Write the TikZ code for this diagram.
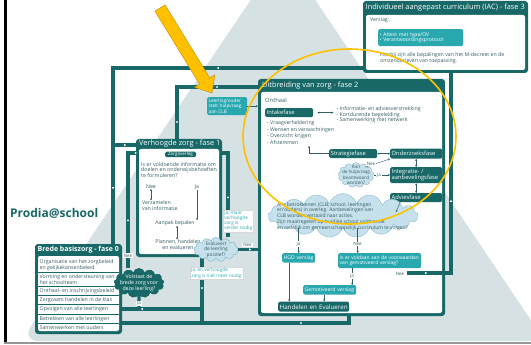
\documentclass[tikz,border=0pt]{standalone}
\usepackage{fontspec}
\setmainfont{Open Sans}
\usetikzlibrary{positioning,shapes.symbols,arrows.meta,decorations.markings}

\definecolor{zorgteal}{RGB}{24,104,104}
\definecolor{zorgcyaan}{RGB}{42,168,176}
\definecolor{zorgtekst}{RGB}{52,94,100}
\definecolor{wolkblauw}{RGB}{198,225,236}
\definecolor{wolkrand}{RGB}{140,188,205}
\definecolor{piramide}{RGB}{213,225,227}
\definecolor{goud}{RGB}{255,192,0}
\definecolor{goudrand}{RGB}{190,140,0}
\definecolor{randgrijs}{RGB}{150,150,150}

\tikzstyle{fasekader} = [fill=zorgteal, rounded corners=3pt, inner sep=0pt]
\tikzstyle{fasevak} = [fill=white, rounded corners=2pt, inner sep=0pt]
\tikzstyle{fasekop} = [text=white, font=\fontsize{7.4}{8}\selectfont, inner sep=0pt, anchor=west]
\tikzstyle{stapdonker} = [fill=zorgteal, text=white, rounded corners=1.5pt, font=\fontsize{5.8}{6.2}\selectfont, inner sep=1.5pt, anchor=north west, align=left]
\tikzstyle{stapcyaan} = [fill=zorgcyaan, text=white, rounded corners=1.5pt, font=\fontsize{5.1}{5.8}\selectfont, inner sep=1.5pt, anchor=north west, align=left]
\tikzstyle{tekstje} = [text=zorgtekst, font=\fontsize{5.2}{5.7}\selectfont, inner sep=0pt, align=left, anchor=west]
\tikzstyle{wolk} = [cloud, cloud puffs=13, fill=wolkblauw, draw=wolkrand, line width=0.4pt, inner sep=0pt]
\tikzstyle{wolktekst} = [text=zorgtekst, font=\fontsize{4.8}{5.4}\selectfont, inner sep=0pt, align=center]
\tikzstyle{lijn} = [draw=zorgteal, line width=3.2pt]
\tikzstyle{pijltje} = [draw=zorgtekst, line width=0.45pt, -{Stealth[length=2pt,width=2.2pt]}]
\tikzstyle{tweepijl} = [draw=zorgtekst, line width=0.45pt, {Stealth[length=2pt,width=2.2pt]}-{Stealth[length=2pt,width=2.2pt]}]
\tikzstyle{bijschrift} = [fill=white, text=zorgtekst, font=\fontsize{4.5}{5}\selectfont, inner sep=0.8pt]
\tikzstyle{kader} = [fill=white, draw=black!15, line width=0.3pt, text=zorgcyaan, font=\fontsize{4.7}{5.1}\selectfont, inner sep=1.2pt, align=left, anchor=north west]
\tikzset{merk/.style={postaction={decorate,decoration={markings,
	mark=at position #1 with {\fill[white] (1.2pt,0pt) -- (-0.9pt,1.2pt) -- (-0.9pt,-1.2pt) -- cycle;}}}}}

\begin{document}
\begin{tikzpicture}[x=1pt,y=-1pt]
		\useasboundingbox (0,0) rectangle (531,345);
		\fill[white] (0,0) rectangle (531,345);
		% piramide achter het schema
		\fill[piramide, rounded corners=18pt] (545,341) -- (283,-48) -- (21,341) -- cycle;
		\fill[black] (4,0) rectangle (7.3,343);
		\fill[randgrijs] (4,341.6) rectangle (531,343.6);
		
		\node[text=zorgteal, font=\fontsize{12}{14}\selectfont\bfseries, anchor=base west, inner sep=0pt] (prodia) at (10,218) {Prodia@school};
		
		% fase 3
		\node[fasekader, minimum width=165, minimum height=72] (iac) at (445.5,37) {};
		\node[fasevak, minimum width=159, minimum height=55] (iacvak) at (445.5,42.5) {};
		\node[fasekop] (iackop) at (365.5,8) {Individueel aangepast curriculum (IAC) - fase 3};
		\node[tekstje] (verslag) at (370,20.5) {Verslag:};
		\node[stapcyaan, text width=82pt, minimum height=17pt] (attest) at (378,29) {• Attest met type/OV\\• Verantwoordingsprotocol};
		\node[tekstje, font=\fontsize{5.2}{6.2}\selectfont] (bepalingen) at (380,58) {Hierbij zijn alle bepalingen van het M-decreet en de\\omzendbrieven van toepassing.};
		
		% fase 2
		\node[fasekader, minimum width=187, minimum height=237] (uitbreiding) at (351.5,197.5) {};
		\node[fasevak, minimum width=181, minimum height=221] (uitbreidingvak) at (351.5,202.5) {};
		\node[fasekop] (uitbreidingkop) at (262,86) {Uitbreiding van zorg - fase 2};
		\node[tekstje, font=\fontsize{5.8}{6.5}\selectfont] (onthaal) at (265,100.5) {Onthaal};
		\node[stapdonker, text width=45pt, minimum height=9pt] (intake) at (265,108) {Intakefase};
		\node[tekstje, right=23pt of intake, yshift=-2pt] (informatie) {- Informatie- en adviesverstrekking\\- Kortdurende begeleiding\\- Samenwerking met netwerk};
		\node[tekstje, anchor=north west, font=\fontsize{5.2}{6.5}\selectfont] (vraag) at (267,120.5) {- Vraagverheldering\\- Wensen en verwachtingen\\- Overzicht krijgen\\- Afstemmen};
		\coordinate (lijstvoet) at (309,146);
		\node[stapdonker, text width=45pt, minimum height=9pt] (strategie) at (329,149) {Strategiefase};
		\node[stapdonker, text width=49pt, minimum height=10pt] (onderzoek) at (390,148.5) {Onderzoeksfase};
		\node[stapdonker, text width=49pt, minimum height=16pt] (integratie) at (390,167) {Integratie- /\\aanbevelingsfase};
		\node[stapdonker, text width=49pt, minimum height=9pt] (advies) at (390,193) {Adviesfase};
		\coordinate (adviespunt) at (396,212);
		\node[stapcyaan, text width=30pt, minimum height=9.5pt] (hgd) at (282,253) {HGD verslag};
		\node[stapcyaan, text width=80pt, minimum height=15pt, font=\fontsize{4.9}{5.6}\selectfont] (voldaan) at (338,253) {Is er voldaan aan de voorwaarden\\van gemotiveerd verslag?};
		\node[stapcyaan, text width=50pt, minimum height=9.5pt] (gemotiveerd) at (303,285) {Gemotiveerd verslag};
		\node[stapdonker, text width=68pt, minimum height=10pt, font=\fontsize{6.2}{6.6}\selectfont] (handelen) at (278,301.5) {Handelen en Evalueren};
		\node[stapcyaan, text width=37pt, minimum height=18pt, font=\fontsize{4.7}{5.2}\selectfont] (leerling) at (207,97) {Leerling/ouder\\stelt hulpvraag\\aan CLB};
		
		% fase 1
		\node[fasekader, minimum width=86, minimum height=118] (verhoogd) at (179,198) {};
		\node[fasevak, minimum width=80, minimum height=105] (verhoogdvak) at (179,201.5) {};
		\node[fasekop] (verhoogdkop) at (139,144) {Verhoogde zorg - fase 1};
		\node[stapdonker, anchor=center, minimum width=31pt, minimum height=5pt, inner sep=0.5pt, font=\fontsize{4.5}{5}\selectfont] (zorgoverleg) at (180.5,154.5) {Zorgoverleg};
		\node[tekstje, font=\fontsize{5.3}{5.3}\selectfont] (voldoende) at (141,170) {Is er voldoende informatie om\\doelen en onderwijsbehoeften\\te formuleren?};
		\node[tekstje, anchor=center] (nee1) at (151,187) {Nee};
		\node[tekstje, anchor=center] (ja1) at (197,187) {Ja};
		\node[tekstje] (verzamelen) at (142,205.5) {Verzamelen\\van informatie};
		\node[tekstje, anchor=center] (aanpak) at (175,223) {Aanpak bepalen};
		\node[tekstje, anchor=center, align=center] (plannen) at (178,244.5) {Plannen, handelen\\en evalueren};
		
		% fase 0
		\node[fasekader, minimum width=87, minimum height=90] (brede) at (78.5,289) {};
		\node[fasevak, minimum width=81, minimum height=75] (bredevak) at (78.5,293.5) {};
		\node[fasekop, font=\fontsize{7}{8}\selectfont\bfseries] (bredekop) at (37.5,249.5) {Brede basiszorg - fase 0};
		\foreach \y in {272,286,295.5,304.5,314,323.5}
			\draw[zorgteal, line width=0.8pt] (38,\y) -- (119,\y);
		\node[tekstje, font=\fontsize{5.2}{4.9}\selectfont] (organisatie) at (39.5,265.5) {Organisatie van het zorgbeleid\\en gelijkekansenbeleid};
		\node[tekstje, font=\fontsize{5.2}{4.9}\selectfont] (vorming) at (39.5,279.5) {Vorming en ondersteuning van\\het schoolteam};
		\node[tekstje] (inschrijving) at (39.5,291) {Onthaal- en inschrijvingsbeleid};
		\node[tekstje] (zorgzaam) at (39.5,300) {Zorgzaam handelen in de klas};
		\node[tekstje] (opvolgen) at (39.5,309.5) {Opvolgen van alle leerlingen};
		\node[tekstje] (betrekken) at (39.5,319) {Betrekken van alle leerlingen};
		\node[tekstje] (ouders) at (39.5,328) {Samenwerken met ouders};
		
		% lussen tussen de fasen
		\coordinate (bovenrechts) at (363,68);
		\coordinate (bovenlinks) at (113,68);
		\coordinate (koplinks) at (113,145);
		\coordinate (binnenhoek) at (177,87);
		\coordinate (neehoek) at (128,153);
		\coordinate (maarhoek) at (228,153);
		\coordinate (jahoek) at (139,309);
		\coordinate (middenhoek) at (202,309);
		\coordinate (onderhoek) at (349,323);
		\coordinate (rechtshoek) at (451,273);
		\coordinate (neestart) at (407,273);
		
		\node[wolk, fill=zorgteal, draw=zorgteal, minimum width=50, minimum height=29, aspect=1.7] (volstaatwolk) at (139,283) {};
		\node[wolk, minimum width=44, minimum height=24, aspect=1.8] (evalwolk) at (216,249.5) {};
		
		\draw[lijn, merk=145pt, merk=370pt] (bovenrechts) -- (bovenlinks) -- (bovenlinks |- brede.north);
		\draw[lijn, merk=12pt] (koplinks) -- (koplinks -| verhoogd.west);
		\draw[lijn, merk=41pt, merk=116pt] (binnenhoek -| uitbreiding.west) -- (binnenhoek) -- (binnenhoek |- verhoogd.north);
		\draw[lijn, merk=48pt, merk=123pt] (neehoek |- volstaatwolk.north) -- (neehoek) -- (neehoek -| verhoogd.west);
		\draw[lijn, merk=40pt] (maarhoek |- evalwolk.north) -- (maarhoek) -- (maarhoek -| verhoogd.east);
		\draw[lijn, merk=12pt] (evalwolk.east) -- (evalwolk.east -| uitbreiding.west);
		\draw[lijn, merk=30pt] ([xshift=-14pt]evalwolk.south) -- ([xshift=-14pt]evalwolk.south |- onderhoek);
		\draw[lijn] (volstaatwolk.south) -- (jahoek);
		\draw[lijn, merk=60pt] (middenhoek) -- (jahoek -| brede.east);
		\draw[lijn, merk=55pt] (onderhoek |- uitbreiding.south) -- (onderhoek) -- (onderhoek -| brede.east);
		\draw[lijn, merk=19pt, merk=116pt] (neestart) -- (rechtshoek) -- (rechtshoek |- iac.south);
		
		% wolken
		\node[wolk, fill=zorgteal, draw=zorgteal, minimum width=50, minimum height=29, aspect=1.7] (volstaatwolk) at (139,283) {};
		\node[wolktekst, text=white, font=\fontsize{5.2}{5.7}\selectfont] (volstaattekst) at (volstaatwolk) {Volstaat de\\brede zorg voor\\deze leerling?};
		\node[wolk, minimum width=44, minimum height=24, aspect=1.8] (evalwolk) at (216,249.5) {};
		\node[wolktekst] (evaltekst) at (evalwolk) {Evalueert\\de leerling\\positief?};
		\node[wolk, minimum width=36, minimum height=25, aspect=1.4] (kanwolk) at (356,175) {};
		\node[wolktekst, font=\fontsize{4.6}{5.3}\selectfont] (kantekst) at (kanwolk) {Kan\\de hulpvraag\\beantwoord\\worden?};
		\node[wolk, cloud puffs=17, minimum width=150, minimum height=44, aspect=3.4] (overlegwolk) at (343,215.5) {};
		\node[tekstje, font=\fontsize{5}{5.8}\selectfont] (overlegtekst) at (277,216.5) {Alle betrokkenen (CLB, school, leerlingen\\en ouders) in overleg. Aanbevelingen van\\CLB worden vertaald naar acties.\\Zijn maatregelen op huidige school voldoende\\en redelijk om gemeenschappelijk curriculum te volgen?};
		
		% pijltjes binnen de fasen
		\draw[tweepijl] ([xshift=4pt]intake.east) -- ([xshift=-3pt]informatie.west |- intake.east);
		\draw[pijltje] (strategie.west) -| (lijstvoet);
		\draw[tweepijl] (strategie.east) -- (onderzoek.west |- strategie.east);
		\draw[tweepijl] (onderzoek.south) -- (integratie.north);
		\draw[tweepijl] (integratie.south) -- (advies.north);
		\draw[pijltje] ([xshift=-16pt]advies.south) -- (adviespunt);
		\draw[pijltje] ([xshift=-2pt]kanwolk.north east) -- (onderzoek.south west);
		\node[bijschrift] (kannee) at (371,163.5) {Nee};
		\draw[pijltje] (kanwolk.east) -- (integratie.west |- kanwolk.east);
		\node[bijschrift] (kanja) at (379,175) {Ja};
		\draw[pijltje] (hgd.north |- overlegwolk.south) -- (hgd.north);
		\node[bijschrift] (overlegja) at (298.5,244) {Ja};
		\draw[pijltje] ([xshift=-22pt]voldaan.north |- overlegwolk.south) -- ([xshift=-22pt]voldaan.north);
		\node[bijschrift] (overlegnee) at (357.5,244) {Nee};
		\draw[pijltje] ([xshift=-27.5pt]voldaan.south) -- ([xshift=-27.5pt]voldaan.south |- gemotiveerd.north);
		\node[bijschrift] (voldaanja) at (352,276) {Ja};
		\node[bijschrift] (voldaannee) at (400,274) {Nee};
		\draw[pijltje] ([xshift=-5.5pt]gemotiveerd.south) -- ([xshift=-5.5pt]gemotiveerd.south |- handelen.north);
		\draw[pijltje] ([xshift=-9.5pt]hgd.south) -- ([xshift=-9.5pt]hgd.south |- handelen.north);
		\draw[pijltje] (leerling.east) -- (leerling.east -| uitbreiding.west);
		\draw[tweepijl] (nee1.south) -- (nee1.south |- verzamelen.north);
		\draw[pijltje] (ja1.south) -- (ja1.south |- aanpak.north);
		\draw[tweepijl] ([xshift=2pt]aanpak.south) -- ([xshift=2pt]aanpak.south |- plannen.north);
		
		% bijschriften op de lussen
		\node[bijschrift] (volstaatnee) at (128,255.5) {Nee};
		\node[bijschrift] (volstaatja) at (139,303.5) {Ja};
		\node[bijschrift] (evalnee) at (247.5,245) {Nee};
		\node[kader] (jamaar) at (223,209.5) {Ja, maar\\verhoogde\\zorg is\\verder nodig};
		\node[kader] (jaen) at (190,267) {Ja, en verhoogde\\zorg is niet meer nodig};
		
		% aandacht: pijl en ovaal
		\filldraw[fill=goud, draw=goudrand, line width=0.4pt] (165.1,4.9) -- (209.8,77.9) -- (214.9,74.8) -- (212,93) -- (194.5,87.3) -- (199.6,84.2) -- (154.9,11.1) -- cycle;
		\draw[goud, line width=1.6pt] (349.5,136.5) ellipse [x radius=106.5, y radius=87.5];
\end{tikzpicture}
\end{document}
